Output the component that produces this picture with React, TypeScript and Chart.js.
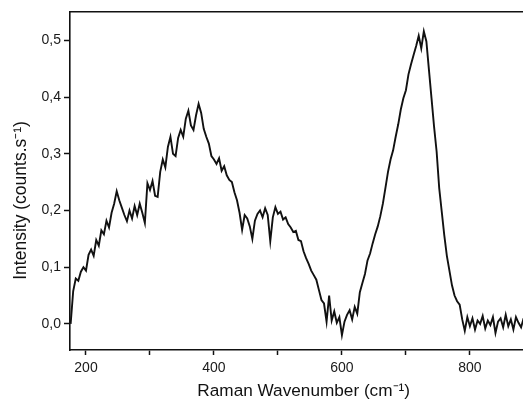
import { useEffect, useRef } from "react";
import { Chart, registerables } from "chart.js";

Chart.register(...registerables);

const WAVENUMBERS = [
  176, 180, 184, 188, 192, 196, 200, 204, 208, 212,
  216, 220, 224, 228, 232, 236, 240, 244, 248, 252,
  256, 260, 264, 268, 272, 276, 280, 284, 288, 292,
  296, 300, 304, 308, 312, 316, 320, 324, 328, 332,
  336, 340, 344, 348, 352, 356, 360, 364, 368, 372,
  376, 380, 384, 388, 392, 396, 400, 404, 408, 412,
  416, 420, 424, 428, 432, 436, 440, 444, 448, 452,
  456, 460, 464, 468, 472, 476, 480, 484, 488, 492,
  496, 500, 504, 508, 512, 516, 520, 524, 528, 532,
  536, 540, 544, 548, 552, 556, 560, 564, 568, 572,
  576, 580, 584, 588, 592, 596, 600, 604, 608, 612,
  616, 620, 624, 628, 632, 636, 640, 644, 648, 652,
  656, 660, 664, 668, 672, 676, 680, 684, 688, 692,
  696, 700, 704, 708, 712, 716, 720, 724, 728, 732,
  736, 740, 744, 748, 752, 756, 760, 764, 768, 772,
  776, 780, 784, 788, 792, 796, 800, 804, 808, 812,
  816, 820, 824, 828, 832, 836, 840, 844, 848, 852,
  856, 860, 864, 868, 872, 876, 880, 884,
];

const INTENSITY = [
  0.000, 0.058, 0.080, 0.076, 0.092, 0.100, 0.094, 0.122, 0.131, 0.120,
  0.148, 0.138, 0.165, 0.158, 0.182, 0.170, 0.196, 0.212, 0.234, 0.218,
  0.205, 0.192, 0.181, 0.200, 0.186, 0.208, 0.192, 0.212, 0.196, 0.178,
  0.248, 0.236, 0.252, 0.226, 0.224, 0.268, 0.290, 0.276, 0.312, 0.330,
  0.300, 0.296, 0.328, 0.342, 0.330, 0.362, 0.376, 0.350, 0.342, 0.368,
  0.388, 0.372, 0.344, 0.330, 0.318, 0.296, 0.290, 0.282, 0.292, 0.270,
  0.278, 0.262, 0.254, 0.250, 0.232, 0.218, 0.196, 0.166, 0.192, 0.186,
  0.172, 0.150, 0.182, 0.194, 0.200, 0.188, 0.204, 0.192, 0.146, 0.188,
  0.206, 0.194, 0.198, 0.184, 0.188, 0.176, 0.170, 0.162, 0.164, 0.148,
  0.146, 0.128, 0.116, 0.106, 0.094, 0.086, 0.078, 0.060, 0.042, 0.036,
  0.004, 0.050, 0.006, 0.022, 0.002, 0.012, -0.020, 0.004, 0.016, 0.024,
  0.008, 0.030, 0.018, 0.056, 0.072, 0.088, 0.112, 0.124, 0.142, 0.158,
  0.172, 0.190, 0.212, 0.240, 0.268, 0.290, 0.306, 0.330, 0.352, 0.378,
  0.398, 0.412, 0.440, 0.458, 0.474, 0.490, 0.508, 0.486, 0.516, 0.498,
  0.448, 0.398, 0.348, 0.304, 0.240, 0.198, 0.156, 0.120, 0.094, 0.068,
  0.050, 0.040, 0.034, 0.008, -0.012, 0.012, -0.004, 0.010, -0.010, 0.006,
  0.000, 0.014, -0.008, 0.006, -0.002, 0.012, -0.016, 0.004, 0.010, -0.006,
  0.016, -0.004, 0.008, -0.010, 0.012, 0.002, -0.006, 0.010,
];

const X_TICKS = [200, 300, 400, 500, 600, 700, 800];
const X_LABELED = [200, 400, 600, 800];
const Y_TICKS = [0, 0.1, 0.2, 0.3, 0.4, 0.5];

const X_MIN = 175;
const X_MAX = 883;
const Y_MIN = -0.046;
const Y_MAX = 0.55;

const X_TITLE = "   Raman Wavenumber (cm\u207B\u00B9)";
const Y_TITLE = "Intensity (counts.s\u207B\u00B9)        ";

const FONT = "'Liberation Sans', Arial, Helvetica, sans-serif";
const INK = "#111111";

export default function App() {
  const ref = useRef<HTMLCanvasElement>(null);

  useEffect(() => {
    const canvas = ref.current;
    if (!canvas) return;
    const chart = new Chart(canvas, {
      type: "line",
      data: {
        datasets: [
          {
            data: WAVENUMBERS.map((x, i) => ({ x, y: INTENSITY[i] })),
            borderColor: INK,
            borderWidth: 1.9,
            pointRadius: 0,
            tension: 0,
            fill: false,
          },
        ],
      },
      options: {
        responsive: false,
        animation: false,
        devicePixelRatio: 1,
        layout: { padding: { top: 12, left: 0, right: 0, bottom: 0 } },
        plugins: { legend: { display: false }, tooltip: { enabled: false } },
        scales: {
          x: {
            type: "linear",
            position: "bottom",
            min: X_MIN,
            max: X_MAX,
            afterFit: (s: any) => {
              s.height = 58;
            },
            afterBuildTicks: (s: any) => {
              s.ticks = X_TICKS.map((v) => ({ value: v }));
            },
            ticks: {
              callback: (v: any) => (X_LABELED.includes(Number(v)) ? String(v) : ""),
              font: { family: FONT, size: 14 },
              color: "#1a1a1a",
              padding: 5,
              maxRotation: 0,
              autoSkip: false,
              includeBounds: false,
            },
            grid: {
              display: true,
              drawOnChartArea: false,
              drawTicks: true,
              tickLength: 5,
              tickWidth: 1.5,
              tickColor: INK,
            },
            border: { display: true, color: INK, width: 1.6 },
            title: {
              display: true,
              text: X_TITLE,
              font: { family: FONT, size: 17.2 },
              color: INK,
              padding: { top: 0, bottom: 6 },
            },
          },
          x2: {
            type: "linear",
            position: "top",
            min: X_MIN,
            max: X_MAX,
            afterFit: (s: any) => {
              s.height = 0;
            },
            ticks: { display: false },
            grid: { display: false, drawTicks: false },
            border: { display: true, color: INK, width: 1.6 },
          },
          y: {
            type: "linear",
            position: "left",
            min: Y_MIN,
            max: Y_MAX,
            afterFit: (s: any) => {
              s.width = 70;
            },
            afterBuildTicks: (s: any) => {
              s.ticks = Y_TICKS.map((v) => ({ value: v }));
            },
            ticks: {
              callback: (v: any) => Number(v).toFixed(1).replace(".", ","),
              font: { family: FONT, size: 14 },
              color: "#1a1a1a",
              padding: 3,
              includeBounds: false,
            },
            grid: {
              display: true,
              drawOnChartArea: false,
              drawTicks: true,
              tickLength: 6,
              tickWidth: 1.5,
              tickColor: INK,
            },
            border: { display: true, color: INK, width: 1.6 },
            title: {
              display: true,
              text: Y_TITLE,
              font: { family: FONT, size: 17.5 },
              color: INK,
              padding: { top: 11, bottom: 0 },
            },
          },
        },
      },
    });
    return () => chart.destroy();
  }, []);

  return (
    <div
      style={{
        position: "fixed",
        left: 0,
        top: 0,
        width: 523,
        height: 408,
        background: "#ffffff",
      }}
    >
      <canvas ref={ref} width={523} height={408} style={{ display: "block" }} />
    </div>
  );
}
